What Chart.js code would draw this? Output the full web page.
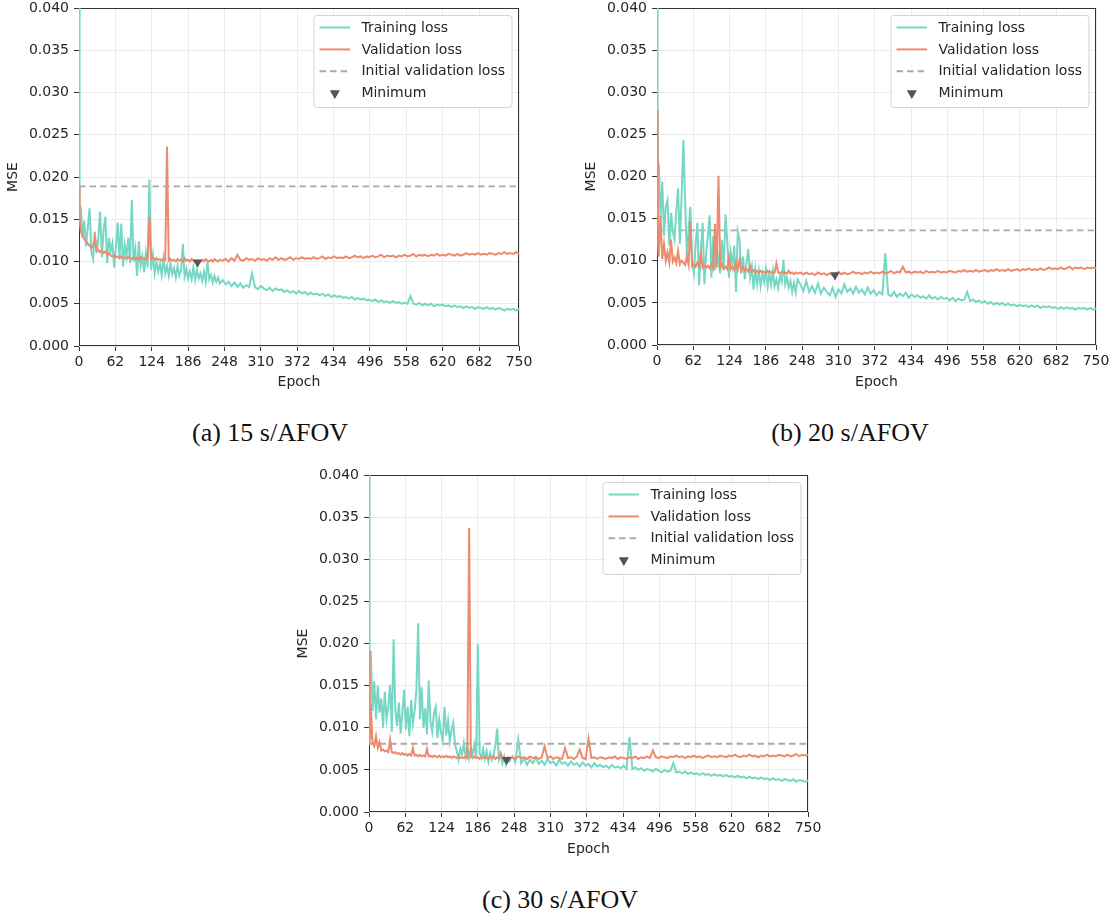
<!DOCTYPE html>
<html>
<head>
<meta charset="utf-8">
<script src="https://cdn.jsdelivr.net/npm/chart.js@4.4.1/dist/chart.umd.min.js"></script>
<style>
  html, body { margin: 0; padding: 0; background: #fff; overflow: hidden; }
  #page { position: relative; width: 1116px; height: 918px; }
  #page canvas { position: absolute; }
  .caption {
    position: absolute;
    font-family: "Liberation Serif", "Times New Roman", serif;
    font-size: 26px;
    color: #111;
    white-space: nowrap;
    transform: translate(-50%, -50%);
  }
</style>
</head>
<body>
<div id="page">
  <canvas id="chart-a" width="545" height="400" style="left:0px;top:0px"></canvas>
  <canvas id="chart-b" width="538" height="400" style="left:578px;top:0px"></canvas>
  <canvas id="chart-c" width="540" height="400" style="left:290px;top:467px"></canvas>
  <div class="caption" style="left:270px;top:433px">(a) 15 s/AFOV</div>
  <div class="caption" style="left:850px;top:433px">(b) 20 s/AFOV</div>
  <div class="caption" style="left:560px;top:900px">(c) 30 s/AFOV</div>
</div>
<script>
// sampled epochs: every 3 epochs up to 240, every 5 after that
const epochs = [
  0, 1, 2, 3, 6, 9, 12, 15, 18, 21, 24, 27, 30, 33, 36, 39, 42, 45, 48, 51,
  54, 57, 60, 63, 66, 69, 72, 75, 78, 81, 84, 87, 90, 93, 96, 99, 102, 105, 108, 111,
  114, 117, 120, 123, 126, 129, 132, 135, 138, 141, 144, 147, 150, 153, 156, 159, 162, 165, 168, 171,
  174, 177, 180, 183, 186, 189, 192, 195, 198, 201, 204, 207, 210, 213, 216, 219, 222, 225, 228, 231,
  234, 237, 240,
  245, 250, 255, 260, 265, 270, 275, 280, 285, 290,
  295, 300, 305, 310, 315, 320, 325, 330, 335, 340,
  345, 350, 355, 360, 365, 370, 375, 380, 385, 390,
  395, 400, 405, 410, 415, 420, 425, 430, 435, 440,
  445, 450, 455, 460, 465, 470, 475, 480, 485, 490,
  495, 500, 505, 510, 515, 520, 525, 530, 535, 540,
  545, 550, 555, 560, 565, 570, 575, 580, 585, 590,
  595, 600, 605, 610, 615, 620, 625, 630, 635, 640,
  645, 650, 655, 660, 665, 670, 675, 680, 685, 690,
  695, 700, 705, 710, 715, 720, 725, 730, 735, 740,
  745, 750
];

const xTicks = [0, 62, 124, 186, 248, 310, 372, 434, 496, 558, 620, 682, 750];
const yTicks = [0, 0.005, 0.01, 0.015, 0.02, 0.025, 0.03, 0.035, 0.04];
const legendLabels = ['Training loss', 'Validation loss', 'Initial validation loss', 'Minimum'];

// (a) 15 s/AFOV
const trainA = [
  0.0600, 0.0175, 0.0150, 0.0165, 0.0128, 0.0148, 0.0118, 0.0140, 0.0163, 0.0112, 0.0103, 0.0135, 0.0110, 0.0128, 0.0159, 0.0105, 0.0138, 0.0153, 0.0098, 0.0128,
  0.0112, 0.0122, 0.0093, 0.0118, 0.0146, 0.0102, 0.0145, 0.0094, 0.0120, 0.0106, 0.0128, 0.0098, 0.0173, 0.0100, 0.0115, 0.0083, 0.0124, 0.0095, 0.0106, 0.0087,
  0.0110, 0.0093, 0.0197, 0.0090, 0.0108, 0.0086, 0.0100, 0.0088, 0.0097, 0.0084, 0.0104, 0.0086, 0.0095, 0.0083, 0.0098, 0.0085, 0.0092, 0.0081, 0.0095, 0.0083,
  0.0090, 0.0121, 0.0082, 0.0091, 0.0080, 0.0088, 0.0079, 0.0093, 0.0078, 0.0090, 0.0080, 0.0086, 0.0077, 0.0088, 0.0076, 0.0100, 0.0079, 0.0084, 0.0075, 0.0083,
  0.0076, 0.0081, 0.0074,
  0.0078, 0.0073, 0.0076, 0.0071, 0.0075, 0.0070, 0.0074, 0.0069, 0.0072, 0.0070,
  0.0086, 0.0070, 0.0067, 0.0071, 0.0068, 0.0066, 0.0069, 0.0065, 0.0068, 0.0066,
  0.0067, 0.0064, 0.0066, 0.0063, 0.0065, 0.0062, 0.0065, 0.0062, 0.0064, 0.0061,
  0.0063, 0.0061, 0.0062, 0.0060, 0.0062, 0.0059, 0.0061, 0.0058, 0.0060, 0.0058,
  0.0059, 0.0057, 0.0058, 0.0056, 0.0058, 0.0055, 0.0057, 0.0055, 0.0056, 0.0054,
  0.0055, 0.0053, 0.0055, 0.0052, 0.0054, 0.0052, 0.0053, 0.0051, 0.0053, 0.0051,
  0.0052, 0.0050, 0.0051, 0.0050, 0.0059, 0.0050, 0.0049, 0.0051, 0.0048, 0.0050,
  0.0048, 0.0050, 0.0047, 0.0049, 0.0048, 0.0049, 0.0047, 0.0048, 0.0046, 0.0048,
  0.0046, 0.0047, 0.0045, 0.0047, 0.0045, 0.0046, 0.0044, 0.0046, 0.0045, 0.0044,
  0.0046, 0.0044, 0.0045, 0.0043, 0.0045, 0.0044, 0.0042, 0.0044, 0.0043, 0.0044,
  0.0042, 0.0044
];
const valA = [
  0.0189, 0.0155, 0.0142, 0.0136, 0.0130, 0.0127, 0.0124, 0.0121, 0.0119, 0.0116, 0.0118, 0.0129, 0.0113, 0.0114, 0.0111, 0.0113, 0.0110, 0.0112, 0.0108, 0.0110,
  0.0107, 0.0106, 0.0108, 0.0105, 0.0106, 0.0104, 0.0106, 0.0104, 0.0105, 0.0103, 0.0106, 0.0104, 0.0103, 0.0105, 0.0103, 0.0104, 0.0102, 0.0105, 0.0103, 0.0104,
  0.0102, 0.0104, 0.0153, 0.0103, 0.0105, 0.0102, 0.0104, 0.0102, 0.0103, 0.0101, 0.0103, 0.0102, 0.0236, 0.0101, 0.0103, 0.0101, 0.0102, 0.0100, 0.0103, 0.0101,
  0.0102, 0.0100, 0.0104, 0.0101, 0.0102, 0.0100, 0.0103, 0.0101, 0.0100, 0.0099, 0.0101, 0.0100, 0.0102, 0.0100, 0.0103, 0.0101, 0.0100, 0.0102, 0.0100, 0.0103,
  0.0101, 0.0100, 0.0102,
  0.0101, 0.0103, 0.0100, 0.0104, 0.0101, 0.0108, 0.0102, 0.0101, 0.0104, 0.0102,
  0.0103, 0.0101, 0.0104, 0.0102, 0.0103, 0.0101, 0.0104, 0.0102, 0.0105, 0.0102,
  0.0104, 0.0102, 0.0103, 0.0105, 0.0102, 0.0104, 0.0103, 0.0105, 0.0103, 0.0104,
  0.0103, 0.0105, 0.0103, 0.0104, 0.0106, 0.0103, 0.0105, 0.0104, 0.0106, 0.0104,
  0.0105, 0.0104, 0.0106, 0.0104, 0.0105, 0.0107, 0.0105, 0.0106, 0.0104, 0.0106,
  0.0105, 0.0107, 0.0105, 0.0106, 0.0108, 0.0105, 0.0107, 0.0106, 0.0107, 0.0105,
  0.0107, 0.0106, 0.0108, 0.0106, 0.0107, 0.0109, 0.0106, 0.0108, 0.0107, 0.0108,
  0.0106, 0.0108, 0.0107, 0.0109, 0.0107, 0.0108, 0.0107, 0.0109, 0.0108, 0.0107,
  0.0109, 0.0107, 0.0108, 0.0110, 0.0108, 0.0109, 0.0108, 0.0110, 0.0108, 0.0109,
  0.0108, 0.0110, 0.0109, 0.0108, 0.0110, 0.0109, 0.0111, 0.0109, 0.0110, 0.0109,
  0.0111, 0.0109
];

// (b) 20 s/AFOV
const trainB = [
  0.0600, 0.0300, 0.0200, 0.0216, 0.0150, 0.0194, 0.0130, 0.0165, 0.0172, 0.0118, 0.0157, 0.0135, 0.0125, 0.0160, 0.0186, 0.0120, 0.0175, 0.0243, 0.0172, 0.0105,
  0.0137, 0.0164, 0.0098, 0.0085, 0.0120, 0.0145, 0.0071, 0.0112, 0.0145, 0.0072, 0.0110, 0.0130, 0.0154, 0.0080, 0.0129, 0.0089, 0.0118, 0.0100, 0.0085, 0.0125,
  0.0090, 0.0155, 0.0125, 0.0080, 0.0110, 0.0095, 0.0118, 0.0063, 0.0135, 0.0125, 0.0085, 0.0105, 0.0078, 0.0098, 0.0114, 0.0080, 0.0093, 0.0066, 0.0090, 0.0072,
  0.0088, 0.0070, 0.0085, 0.0075, 0.0090, 0.0070, 0.0085, 0.0072, 0.0088, 0.0070, 0.0078, 0.0068, 0.0082, 0.0075, 0.0101, 0.0072, 0.0080, 0.0068, 0.0076, 0.0063,
  0.0074, 0.0062, 0.0078,
  0.0072, 0.0064, 0.0076, 0.0063, 0.0070, 0.0062, 0.0073, 0.0061, 0.0068, 0.0063,
  0.0059, 0.0068, 0.0057, 0.0066, 0.0061, 0.0072, 0.0063, 0.0067, 0.0061, 0.0069,
  0.0062, 0.0066, 0.0060, 0.0068, 0.0061, 0.0065, 0.0059, 0.0063, 0.0060, 0.0109,
  0.0060, 0.0058, 0.0063, 0.0057, 0.0061, 0.0058, 0.0062, 0.0056, 0.0060, 0.0057,
  0.0059, 0.0056, 0.0058, 0.0055, 0.0059, 0.0055, 0.0057, 0.0054, 0.0057, 0.0055,
  0.0056, 0.0053, 0.0056, 0.0052, 0.0055, 0.0053, 0.0054, 0.0063, 0.0052, 0.0054,
  0.0051, 0.0053, 0.0050, 0.0052, 0.0049, 0.0051, 0.0048, 0.0050, 0.0048, 0.0050,
  0.0047, 0.0049, 0.0047, 0.0048, 0.0046, 0.0048, 0.0046, 0.0047, 0.0045, 0.0047,
  0.0045, 0.0047, 0.0044, 0.0046, 0.0045, 0.0046, 0.0044, 0.0045, 0.0043, 0.0045,
  0.0043, 0.0045, 0.0043, 0.0044, 0.0042, 0.0044, 0.0043, 0.0044, 0.0042, 0.0044,
  0.0042, 0.0043
];
const valB = [
  0.0136, 0.0279, 0.0115, 0.0105, 0.0153, 0.0102, 0.0120, 0.0100, 0.0110, 0.0098, 0.0125, 0.0099, 0.0104, 0.0097, 0.0112, 0.0096, 0.0100, 0.0098, 0.0095, 0.0105,
  0.0095, 0.0147, 0.0094, 0.0096, 0.0093, 0.0098, 0.0093, 0.0109, 0.0092, 0.0095, 0.0092, 0.0094, 0.0091, 0.0096, 0.0091, 0.0144, 0.0092, 0.0201, 0.0092, 0.0096,
  0.0090, 0.0093, 0.0090, 0.0105, 0.0090, 0.0093, 0.0089, 0.0098, 0.0089, 0.0101, 0.0088, 0.0092, 0.0088, 0.0090, 0.0087, 0.0094, 0.0087, 0.0089, 0.0086, 0.0088,
  0.0086, 0.0088, 0.0086, 0.0087, 0.0085, 0.0088, 0.0086, 0.0087, 0.0085, 0.0086, 0.0097, 0.0086, 0.0085, 0.0087, 0.0085, 0.0086, 0.0085, 0.0088, 0.0085, 0.0086,
  0.0084, 0.0086, 0.0085,
  0.0086, 0.0084, 0.0086, 0.0084, 0.0085, 0.0083, 0.0086, 0.0084, 0.0085, 0.0083,
  0.0085, 0.0083, 0.0084, 0.0087, 0.0084, 0.0086, 0.0084, 0.0085, 0.0087, 0.0085,
  0.0086, 0.0084, 0.0086, 0.0085, 0.0087, 0.0085, 0.0086, 0.0085, 0.0087, 0.0085,
  0.0086, 0.0088, 0.0085, 0.0087, 0.0086, 0.0093, 0.0086, 0.0087, 0.0085, 0.0087,
  0.0086, 0.0087, 0.0085, 0.0088, 0.0086, 0.0087, 0.0086, 0.0088, 0.0086, 0.0087,
  0.0086, 0.0088, 0.0087, 0.0086, 0.0088, 0.0087, 0.0089, 0.0087, 0.0088, 0.0087,
  0.0089, 0.0087, 0.0088, 0.0089, 0.0087, 0.0089, 0.0088, 0.0090, 0.0088, 0.0089,
  0.0088, 0.0090, 0.0088, 0.0089, 0.0090, 0.0088, 0.0090, 0.0089, 0.0091, 0.0089,
  0.0090, 0.0089, 0.0091, 0.0089, 0.0090, 0.0092, 0.0090, 0.0091, 0.0090, 0.0092,
  0.0090, 0.0091, 0.0093, 0.0090, 0.0092, 0.0091, 0.0092, 0.0090, 0.0092, 0.0091,
  0.0092, 0.0091
];

// (c) 30 s/AFOV
const trainC = [
  0.0600, 0.0181, 0.0150, 0.0191, 0.0120, 0.0155, 0.0110, 0.0150, 0.0118, 0.0135, 0.0100, 0.0143, 0.0110, 0.0125, 0.0151, 0.0095, 0.0205, 0.0120, 0.0102, 0.0130,
  0.0093, 0.0118, 0.0145, 0.0098, 0.0125, 0.0090, 0.0133, 0.0105, 0.0120, 0.0145, 0.0224, 0.0110, 0.0148, 0.0100, 0.0123, 0.0092, 0.0156, 0.0107, 0.0095, 0.0118,
  0.0125, 0.0088, 0.0110, 0.0095, 0.0085, 0.0125, 0.0091, 0.0108, 0.0084, 0.0098, 0.0106, 0.0080, 0.0072, 0.0062, 0.0075, 0.0068, 0.0082, 0.0066, 0.0078, 0.0064,
  0.0076, 0.0068, 0.0080, 0.0066, 0.0199, 0.0070, 0.0064, 0.0075, 0.0063, 0.0072, 0.0060, 0.0070, 0.0062, 0.0068, 0.0080, 0.0099, 0.0062, 0.0068, 0.0058, 0.0066,
  0.0056, 0.0064, 0.0060,
  0.0066, 0.0059, 0.0086, 0.0058, 0.0064, 0.0056, 0.0062, 0.0058, 0.0065, 0.0057,
  0.0061, 0.0056, 0.0063, 0.0058, 0.0060, 0.0055, 0.0062, 0.0057, 0.0059, 0.0055,
  0.0060, 0.0056, 0.0058, 0.0054, 0.0059, 0.0055, 0.0057, 0.0053, 0.0058, 0.0054,
  0.0056, 0.0053, 0.0055, 0.0052, 0.0056, 0.0053, 0.0054, 0.0052, 0.0055, 0.0051,
  0.0089, 0.0051, 0.0053, 0.0050, 0.0052, 0.0049, 0.0051, 0.0050, 0.0048, 0.0051,
  0.0049, 0.0047, 0.0050, 0.0048, 0.0049, 0.0058, 0.0047, 0.0048, 0.0046, 0.0048,
  0.0045, 0.0047, 0.0045, 0.0046, 0.0044, 0.0046, 0.0044, 0.0045, 0.0043, 0.0045,
  0.0043, 0.0044, 0.0042, 0.0044, 0.0042, 0.0043, 0.0041, 0.0043, 0.0041, 0.0042,
  0.0040, 0.0042, 0.0040, 0.0041, 0.0039, 0.0041, 0.0039, 0.0040, 0.0038, 0.0040,
  0.0038, 0.0039, 0.0037, 0.0039, 0.0038, 0.0037, 0.0039, 0.0036, 0.0038, 0.0037,
  0.0036, 0.0037
];
const valC = [
  0.0081, 0.0191, 0.0088, 0.0128, 0.0082, 0.0078, 0.0090, 0.0076, 0.0083, 0.0073, 0.0074, 0.0072, 0.0073, 0.0071, 0.0086, 0.0071, 0.0070, 0.0071, 0.0069, 0.0070,
  0.0068, 0.0070, 0.0068, 0.0069, 0.0067, 0.0069, 0.0067, 0.0076, 0.0067, 0.0068, 0.0066, 0.0068, 0.0066, 0.0067, 0.0066, 0.0075, 0.0066, 0.0067, 0.0065, 0.0067,
  0.0066, 0.0065, 0.0067, 0.0065, 0.0066, 0.0065, 0.0067, 0.0065, 0.0066, 0.0064, 0.0066, 0.0065, 0.0064, 0.0066, 0.0064, 0.0065, 0.0064, 0.0066, 0.0064, 0.0337,
  0.0065, 0.0064, 0.0066, 0.0064, 0.0065, 0.0063, 0.0065, 0.0064, 0.0066, 0.0064, 0.0063, 0.0065, 0.0064, 0.0066, 0.0063, 0.0065, 0.0064, 0.0070, 0.0064, 0.0063,
  0.0062, 0.0065, 0.0064,
  0.0065, 0.0063, 0.0066, 0.0064, 0.0065, 0.0063, 0.0066, 0.0064, 0.0065, 0.0063,
  0.0065, 0.0078, 0.0064, 0.0066, 0.0063, 0.0065, 0.0064, 0.0063, 0.0076, 0.0064,
  0.0065, 0.0063, 0.0066, 0.0074, 0.0064, 0.0063, 0.0087, 0.0064, 0.0065, 0.0063,
  0.0065, 0.0064, 0.0063, 0.0065, 0.0064, 0.0066, 0.0063, 0.0065, 0.0064, 0.0063,
  0.0065, 0.0064, 0.0066, 0.0063, 0.0065, 0.0064, 0.0066, 0.0064, 0.0073, 0.0065,
  0.0064, 0.0066, 0.0065, 0.0064, 0.0066, 0.0065, 0.0067, 0.0065, 0.0066, 0.0064,
  0.0066, 0.0065, 0.0067, 0.0065, 0.0066, 0.0064, 0.0066, 0.0067, 0.0065, 0.0066,
  0.0065, 0.0067, 0.0066, 0.0065, 0.0067, 0.0066, 0.0068, 0.0066, 0.0065, 0.0067,
  0.0066, 0.0068, 0.0066, 0.0067, 0.0065, 0.0067, 0.0066, 0.0068, 0.0066, 0.0067,
  0.0066, 0.0068, 0.0067, 0.0066, 0.0068, 0.0066, 0.0067, 0.0069, 0.0066, 0.0068,
  0.0067, 0.0068
];

// initial validation loss and minimum of the validation loss, per panel (a, b, c)
const initialVal = [0.0189, 0.0136, 0.0081];
const minEpoch = [202, 304, 235];
const minValue = [0.0099, 0.0083, 0.0062];

const trainColor = '#76d7c4';
const valColor = '#ec8b6e';
const initColor = '#a9a9af';
const minColor = '#555555';
const gridColor = '#ebebeb';
const spineColor = '#333333';
const textColor = '#262626';
const initDash = [6.5, 4];

Chart.defaults.font.family = '"DejaVu Sans", sans-serif';
Chart.defaults.font.size = 14;
Chart.defaults.color = textColor;

function toPoints(values) {
    return epochs.map((e, i) => ({ x: e, y: values[i] }));
}

// full box around the plot area, drawn under the curves
const framePlugin = {
    id: 'frame',
    beforeDatasetsDraw(chart) {
        const { ctx, chartArea: a } = chart;
        ctx.save();
        ctx.strokeStyle = spineColor;
        ctx.lineWidth = 1;
        ctx.strokeRect(Math.round(a.left) + 0.5, Math.round(a.top) + 0.5,
            Math.round(a.right - a.left) - 1, Math.round(a.bottom - a.top) - 1);
        ctx.restore();
    }
};

// matplotlib-like legend box in the upper right corner
const boxLegendPlugin = {
    id: 'boxLegend',
    afterDraw(chart) {
        const { ctx, chartArea: a } = chart;
        ctx.save();
        ctx.font = '14px "DejaVu Sans"';
        const textW = Math.max(...legendLabels.map(t => ctx.measureText(t).width));
        const w = 47.5 + textW + 7;
        const h = 92;
        const x0 = a.right - 7 - w;
        const y0 = a.top + 7.5;

        ctx.fillStyle = 'rgba(255,255,255,0.85)';
        ctx.strokeStyle = '#d4d4d4';
        ctx.lineWidth = 1;
        ctx.beginPath();
        if (ctx.roundRect) ctx.roundRect(x0, y0, w, h, 3); else ctx.rect(x0, y0, w, h);
        ctx.fill();
        ctx.stroke();

        legendLabels.forEach((label, i) => {
            const y = y0 + 12 + i * 21.9;
            const sx = x0 + 5.7;
            const ex = sx + 30.5;
            if (i < 3) {
                ctx.beginPath();
                ctx.strokeStyle = [trainColor, valColor, initColor][i];
                ctx.lineWidth = 2;
                ctx.setLineDash(i === 2 ? initDash : []);
                ctx.moveTo(sx, y);
                ctx.lineTo(ex, y);
                ctx.stroke();
                ctx.setLineDash([]);
            } else {
                ctx.fillStyle = minColor;
                Chart.helpers.drawPoint(ctx, { pointStyle: 'triangle', rotation: 180, radius: 5.5, borderWidth: 0 }, (sx + ex) / 2, y);
                ctx.fill();
            }
            ctx.fillStyle = textColor;
            ctx.textBaseline = 'middle';
            ctx.textAlign = 'left';
            ctx.fillText(label, x0 + 47.5, y + 0.5);
        });
        ctx.restore();
    }
};

function makePanel(canvasId, idx, train, val, pad, xHeight) {
    const ctx = document.getElementById(canvasId).getContext('2d');
    return new Chart(ctx, {
        type: 'line',
        data: {
            datasets: [
                {
                    label: 'Minimum',
                    data: [{ x: minEpoch[idx], y: minValue[idx] }],
                    showLine: false,
                    pointStyle: 'triangle',
                    rotation: 180,
                    pointRadius: 5.5,
                    pointBackgroundColor: minColor,
                    pointBorderWidth: 0,
                    order: 0
                },
                {
                    label: 'Validation loss',
                    data: toPoints(val),
                    borderColor: valColor,
                    borderWidth: 2,
                    pointRadius: 0,
                    tension: 0,
                    order: 1
                },
                {
                    label: 'Training loss',
                    data: toPoints(train),
                    borderColor: trainColor,
                    borderWidth: 2,
                    pointRadius: 0,
                    tension: 0,
                    order: 2
                },
                {
                    label: 'Initial validation loss',
                    data: [{ x: 0, y: initialVal[idx] }, { x: 750, y: initialVal[idx] }],
                    borderColor: initColor,
                    borderWidth: 1.8,
                    borderDash: initDash,
                    pointRadius: 0,
                    order: 3
                }
            ]
        },
        options: {
            responsive: false,
            animation: false,
            events: [],
            layout: { padding: pad },
            plugins: { legend: { display: false }, tooltip: { enabled: false } },
            scales: {
                x: {
                    type: 'linear',
                    min: 0,
                    max: 750,
                    afterBuildTicks: s => { s.ticks = xTicks.map(v => ({ value: v })); },
                    afterFit: s => { s.height = xHeight; s.paddingLeft = 0; s.paddingRight = 0; },
                    ticks: { autoSkip: false, maxRotation: 0, minRotation: 0, padding: 3, callback: v => String(v) },
                    grid: { color: gridColor, tickColor: spineColor, tickLength: 5 },
                    border: { display: false },
                    title: { display: true, text: 'Epoch', padding: { top: 0, bottom: 9.6 } }
                },
                y: {
                    type: 'linear',
                    min: 0,
                    max: 0.04,
                    afterBuildTicks: s => { s.ticks = yTicks.map(v => ({ value: v })); },
                    afterFit: s => { s.width = 79; s.paddingTop = 0; s.paddingBottom = 0; },
                    ticks: { padding: 5, callback: v => v.toFixed(3) },
                    grid: { color: gridColor, tickColor: spineColor, tickLength: 5 },
                    border: { display: false },
                    title: { display: true, text: 'MSE', padding: { top: 5.3, bottom: 0 } }
                }
            }
        },
        plugins: [framePlugin, boxLegendPlugin]
    });
}

makePanel('chart-a', 0, trainA, valA, { left: 0, top: 8, right: 26, bottom: 0 }, 54);
makePanel('chart-b', 1, trainB, valB, { left: 0, top: 8, right: 20, bottom: 0 }, 55);
makePanel('chart-c', 2, trainC, valC, { left: 0, top: 8, right: 22, bottom: 0 }, 55);
</script>
</body>
</html>
